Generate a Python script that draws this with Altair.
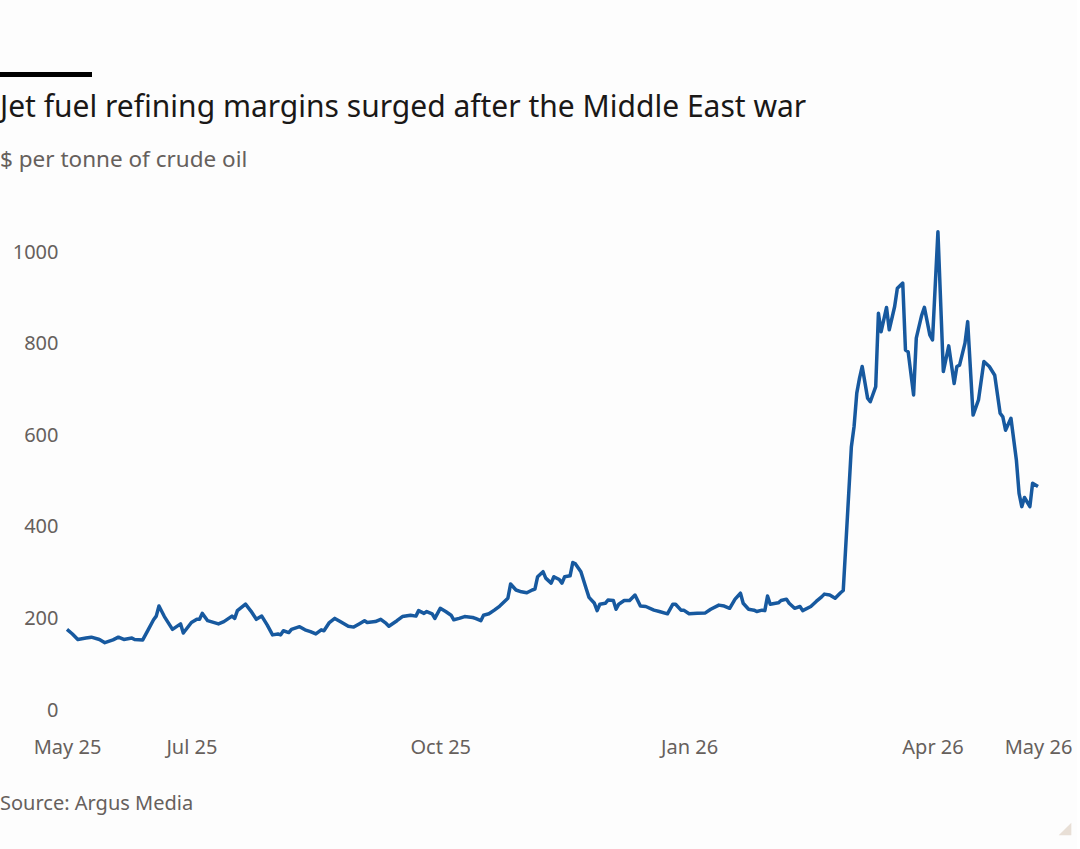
import altair as alt
import pandas as pd

dates = [
    "2025-05-16", "2025-05-18", "2025-05-20", "2025-05-23", "2025-05-25", "2025-05-28", "2025-05-30",
    "2025-06-02", "2025-06-04", "2025-06-06", "2025-06-09", "2025-06-10", "2025-06-13", "2025-06-15",
    "2025-06-17", "2025-06-18", "2025-06-19", "2025-06-21", "2025-06-24", "2025-06-27", "2025-06-28",
    "2025-07-01", "2025-07-03", "2025-07-04", "2025-07-05", "2025-07-07", "2025-07-11", "2025-07-13",
    "2025-07-16", "2025-07-17", "2025-07-18", "2025-07-21", "2025-07-23", "2025-07-25", "2025-07-27",
    "2025-07-29", "2025-07-31",
    "2025-08-02", "2025-08-03", "2025-08-04", "2025-08-06", "2025-08-07", "2025-08-10", "2025-08-12",
    "2025-08-14", "2025-08-16", "2025-08-18", "2025-08-19", "2025-08-21", "2025-08-23", "2025-08-25",
    "2025-08-28", "2025-08-30",
    "2025-09-01", "2025-09-03", "2025-09-04", "2025-09-07", "2025-09-09", "2025-09-11", "2025-09-12",
    "2025-09-15", "2025-09-17", "2025-09-20", "2025-09-22", "2025-09-23", "2025-09-25", "2025-09-26",
    "2025-09-28", "2025-09-29",
    "2025-10-01", "2025-10-03", "2025-10-05", "2025-10-06", "2025-10-08", "2025-10-10", "2025-10-13",
    "2025-10-14", "2025-10-16", "2025-10-17", "2025-10-19", "2025-10-21", "2025-10-23", "2025-10-26",
    "2025-10-27", "2025-10-29", "2025-10-31",
    "2025-11-02", "2025-11-04", "2025-11-05", "2025-11-06", "2025-11-08", "2025-11-09", "2025-11-11",
    "2025-11-12", "2025-11-14", "2025-11-15", "2025-11-16", "2025-11-18", "2025-11-19", "2025-11-20",
    "2025-11-22", "2025-11-24", "2025-11-25", "2025-11-27", "2025-11-28", "2025-11-29",
    "2025-12-01", "2025-12-02", "2025-12-04", "2025-12-05", "2025-12-06", "2025-12-08", "2025-12-10",
    "2025-12-12", "2025-12-14", "2025-12-16", "2025-12-19", "2025-12-21", "2025-12-24", "2025-12-26",
    "2025-12-27", "2025-12-29", "2025-12-30",
    "2026-01-01", "2026-01-04", "2026-01-07", "2026-01-09", "2026-01-12", "2026-01-14", "2026-01-16",
    "2026-01-18", "2026-01-20", "2026-01-21", "2026-01-23", "2026-01-25", "2026-01-26", "2026-01-28",
    "2026-01-29", "2026-01-30", "2026-01-31",
    "2026-02-03", "2026-02-04", "2026-02-06", "2026-02-07", "2026-02-09", "2026-02-11", "2026-02-12",
    "2026-02-15", "2026-02-17", "2026-02-19", "2026-02-20", "2026-02-22", "2026-02-24", "2026-02-26",
    "2026-02-27",
    "2026-03-02", "2026-03-03", "2026-03-04", "2026-03-05", "2026-03-06", "2026-03-08", "2026-03-09",
    "2026-03-11", "2026-03-12", "2026-03-13", "2026-03-15", "2026-03-16", "2026-03-18", "2026-03-19",
    "2026-03-21", "2026-03-22", "2026-03-23", "2026-03-25", "2026-03-26", "2026-03-28", "2026-03-29",
    "2026-03-31",
    "2026-04-01", "2026-04-03", "2026-04-05", "2026-04-07", "2026-04-09", "2026-04-10", "2026-04-11",
    "2026-04-13", "2026-04-14", "2026-04-16", "2026-04-18", "2026-04-20", "2026-04-22", "2026-04-24",
    "2026-04-26", "2026-04-27", "2026-04-28", "2026-04-30",
    "2026-05-02", "2026-05-03", "2026-05-04", "2026-05-05", "2026-05-07", "2026-05-08", "2026-05-10",
]

margin = [
    176, 166, 154, 157, 159, 154, 147,
    153, 159, 154, 157, 154, 153, 175, 197, 205, 227, 204, 176, 188, 168,
    191, 198, 198, 211, 195, 188, 193, 205, 200, 217, 231, 216, 198, 205, 186, 164,
    166, 164, 173, 169, 176, 182, 175, 171, 166, 175, 173, 191, 200, 193, 183, 181,
    188, 195, 191, 193, 198, 189, 183, 195, 204, 207, 205, 217, 211, 215, 210, 200,
    222, 215, 207, 197, 200, 204, 202, 200, 195, 207, 210, 218, 227, 244, 275, 262, 258,
    256, 262, 264, 291, 302, 288, 277, 291, 285, 277, 291, 293, 322, 319, 302, 264, 246, 233, 217, 231,
    233, 240, 239, 220, 231, 239, 239, 251, 227, 226, 218, 215, 210, 231, 231, 218, 218,
    210, 211, 212, 220, 229, 227, 222, 242, 255, 233, 220, 218, 215, 218, 217, 249, 231,
    234, 239, 242, 233, 222, 226, 217, 226, 237, 247, 253, 251, 244, 256, 261,
    575, 619, 692, 724, 750, 681, 673, 706, 866, 826, 879, 830, 881, 921, 932, 786, 782, 688, 812, 862, 879, 819,
    808, 1044, 739, 795, 713, 750, 753, 801, 848, 644, 677, 761, 750, 731, 648, 640, 611, 637,
    546, 473, 444, 464, 444, 495, 488,
]

y_ticks = [0, 200, 400, 600, 800, 1000]
x_ticks = [(2025, 5, 16), (2025, 7, 1), (2025, 10, 1), (2026, 1, 1), (2026, 4, 1), (2026, 5, 10)]
x_domain = [(2025, 5, 16), (2026, 5, 10)]

title_text = "Jet fuel refining margins surged after the Middle East war"
subtitle_text = "$ per tonne of crude oil"
source_text = "Source: Argus Media"

FONT = "Noto Sans"
GREY = "#66605c"
LINE = "#17599f"

df = pd.DataFrame({"date": dates, "value": margin})


def dt(t):
    return alt.DateTime(year=t[0], month=t[1], date=t[2], utc=True)


line = alt.Chart(df).mark_line(color=LINE, strokeWidth=3.5, strokeJoin="round").encode(
    x=alt.X(
        "date:T",
        scale=alt.Scale(type="utc", domain=[dt(d) for d in x_domain], nice=False),
        axis=alt.Axis(
            values=[dt(d) for d in x_ticks],
            labelExpr="utcFormat(datum.value, '%b %y')",
            title=None, grid=False, domain=False, ticks=False, labelFlush=False,
            labelPadding=27, labelFontSize=20, labelFont=FONT, labelColor=GREY,
        ),
    ),
    y=alt.Y(
        "value:Q",
        scale=alt.Scale(domain=[0, 1000], nice=False),
        axis=alt.Axis(
            values=y_ticks, format="d", title=None, grid=False, domain=False, ticks=False,
            labelPadding=9, labelFontSize=20, labelFont=FONT, labelColor=GREY,
        ),
    ),
)

one = alt.Data(values=[{}])

bar = alt.Chart(one).mark_rect(color="#000000").encode(
    x=alt.value(-67), x2=alt.value(25), y=alt.value(-180), y2=alt.value(-175)
)
title = alt.Chart(one).mark_text(
    text=title_text, align="left", baseline="middle", font=FONT, fontSize=30, color="#1a1817"
).encode(x=alt.value(-67), y=alt.value(-144))
subtitle = alt.Chart(one).mark_text(
    text=subtitle_text, align="left", baseline="middle", font=FONT, fontSize=22.5, color=GREY
).encode(x=alt.value(-67), y=alt.value(-92))
source = alt.Chart(one).mark_text(
    text=source_text, align="left", baseline="middle", font=FONT, fontSize=20, color=GREY
).encode(x=alt.value(-67), y=alt.value(552))
corner = alt.Chart(one).mark_point(
    shape="M1,-1L1,1L-1,1Z", filled=True, size=160, color="#e8dfd6", opacity=1
).encode(x=alt.value(998), y=alt.value(577))

chart = alt.layer(bar, title, subtitle, line, source, corner).properties(
    width=971, height=458,
    padding={"left": 0, "top": 72, "right": 5, "bottom": 15},
    background="#fdfdfd",
).configure_view(stroke=None)

chart.save("out.html", embed_options={"renderer": "svg", "actions": False})
